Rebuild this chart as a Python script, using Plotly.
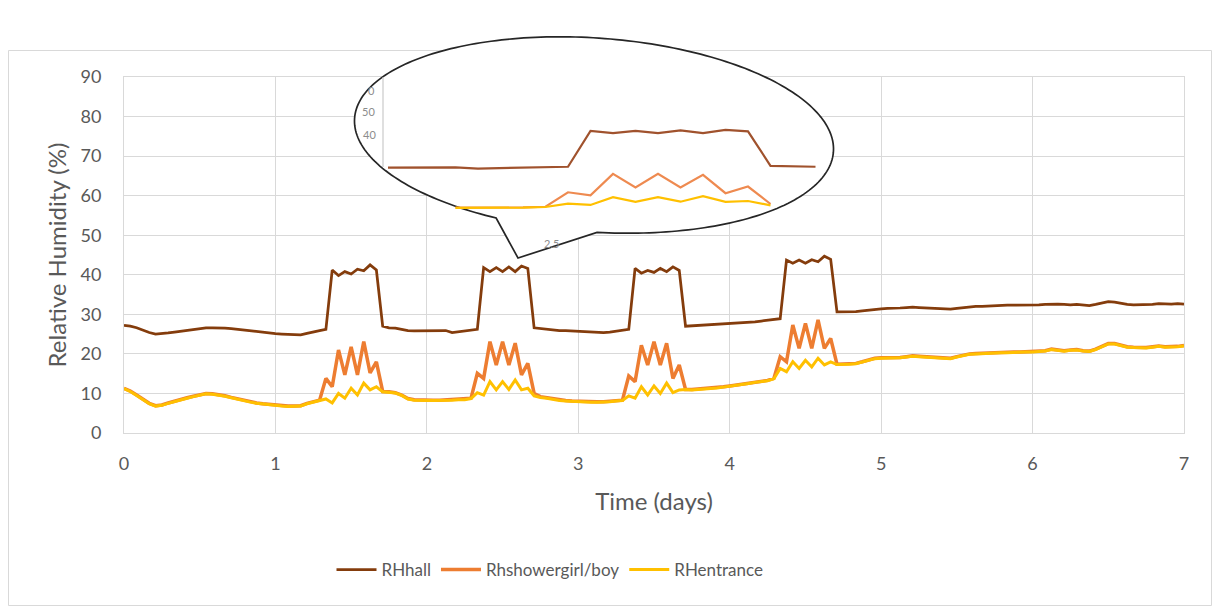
import math
import numpy as np
import plotly.graph_objects as go

W, H = 1219, 607

# ---------------- data (hourly samples, 7 days) ----------------
hours = list(range(169))
time_days = [h / 24 for h in hours]

rh_hall = [
    27.2, 27.0, 26.6, 26.0, 25.4, 25.0, 25.1, 25.3, 25.5, 25.7, 25.9, 26.1, 26.4, 26.6, 26.6, 26.6, 26.5, 26.4, 26.2, 26.0, 25.8, 25.6, 25.4, 25.2,
    25.1, 25.0, 24.9, 24.8, 24.8, 25.2, 25.6, 25.9, 26.2, 41.2, 39.8, 40.8, 40.2, 41.4, 41.0, 42.5, 41.2, 27.0, 26.6, 26.5, 26.2, 25.9, 25.8, 25.8,
    25.8, 25.9, 25.9, 25.9, 25.4, 25.6, 25.8, 26.0, 26.2, 41.8, 40.8, 41.8, 40.8, 42.0, 40.8, 42.2, 41.6, 26.6, 26.4, 26.2, 26.0, 25.9, 25.9, 25.8,
    25.7, 25.6, 25.6, 25.5, 25.4, 25.5, 25.7, 26.0, 26.2, 41.6, 40.4, 41.1, 40.6, 41.6, 40.8, 42.0, 41.1, 27.0, 27.1, 27.2, 27.3, 27.4, 27.5, 27.5,
    27.6, 27.7, 27.8, 28.0, 28.1, 28.3, 28.5, 28.7, 28.9, 43.7, 42.9, 43.7, 42.9, 43.8, 43.3, 44.7, 43.9, 30.6, 30.6, 30.7, 30.7, 30.9, 31.1, 31.3,
    31.4, 31.5, 31.5, 31.6, 31.7, 31.8, 31.7, 31.6, 31.5, 31.4, 31.4, 31.3, 31.5, 31.7, 31.9, 32.0, 32.0, 32.1, 32.2, 32.2, 32.3, 32.3, 32.3, 32.4,
    32.4, 32.4, 32.5, 32.6, 32.6, 32.5, 32.4, 32.5, 32.3, 32.2, 32.5, 32.9, 33.2, 33.1, 32.8, 32.5, 32.4, 32.4, 32.4, 32.5, 32.7, 32.6, 32.6, 32.7,
    32.6,
]

rh_shower = [
    11.3, 10.6, 9.6, 8.5, 7.5, 6.9, 7.1, 7.6, 8.1, 8.5, 8.9, 9.3, 9.7, 10.0, 9.9, 9.7, 9.4, 9.0, 8.6, 8.2, 7.9, 7.6, 7.4, 7.2,
    7.0, 6.9, 6.8, 6.8, 6.9, 7.5, 7.9, 8.3, 13.8, 11.7, 21.0, 14.7, 21.8, 14.7, 23.1, 15.2, 18.0, 10.5, 10.4, 10.2, 9.6, 8.7, 8.4, 8.3,
    8.3, 8.3, 8.3, 8.4, 8.4, 8.5, 8.5, 8.8, 15.1, 13.8, 23.1, 17.2, 23.1, 17.2, 22.7, 14.7, 17.6, 10.0, 9.2, 8.9, 8.6, 8.3, 8.2, 8.1,
    8.0, 8.0, 7.9, 7.9, 7.9, 8.0, 8.2, 8.3, 14.4, 13.0, 22.2, 17.2, 23.1, 17.2, 22.7, 13.8, 17.2, 11.0, 11.0, 11.1, 11.2, 11.3, 11.5, 11.7,
    11.9, 12.1, 12.3, 12.6, 12.9, 13.1, 13.3, 13.8, 19.3, 18.0, 27.3, 21.4, 27.7, 21.4, 28.6, 21.4, 23.9, 17.4, 17.4, 17.5, 17.6, 18.0, 18.5, 18.9,
    19.0, 19.0, 19.0, 19.1, 19.3, 19.5, 19.4, 19.3, 19.2, 19.1, 19.0, 18.9, 19.3, 19.7, 20.0, 20.1, 20.2, 20.3, 20.3, 20.4, 20.4, 20.5, 20.5, 20.6,
    20.6, 20.7, 20.8, 21.2, 21.0, 20.8, 21.0, 21.1, 20.8, 20.7, 21.2, 22.0, 22.6, 22.6, 22.2, 21.8, 21.7, 21.6, 21.6, 21.8, 22.0, 21.8, 21.8, 21.9,
    22.1,
]

rh_entrance = [
    11.2, 10.5, 9.5, 8.4, 7.4, 6.8, 7.0, 7.5, 8.0, 8.4, 8.8, 9.2, 9.6, 9.9, 9.8, 9.6, 9.3, 8.9, 8.5, 8.1, 7.8, 7.5, 7.3, 7.1,
    6.9, 6.8, 6.7, 6.7, 6.8, 7.4, 7.8, 8.2, 8.6, 7.6, 10.0, 8.8, 11.3, 9.6, 12.6, 10.9, 11.7, 10.4, 10.3, 10.1, 9.5, 8.6, 8.3, 8.2,
    8.2, 8.2, 8.2, 8.3, 8.3, 8.4, 8.4, 8.7, 10.2, 9.6, 13.0, 10.9, 13.0, 11.0, 13.4, 10.9, 11.3, 9.4, 9.0, 8.8, 8.5, 8.2, 8.1, 8.0,
    7.9, 7.9, 7.8, 7.8, 7.8, 7.9, 8.1, 8.2, 9.4, 8.8, 11.7, 9.6, 11.9, 10.0, 12.6, 10.2, 10.9, 11.0, 10.9, 11.0, 11.1, 11.2, 11.4, 11.6,
    11.8, 12.0, 12.2, 12.5, 12.8, 13.0, 13.2, 13.7, 16.3, 15.5, 18.0, 16.3, 18.4, 16.7, 18.9, 17.2, 18.0, 17.3, 17.3, 17.4, 17.5, 17.9, 18.4, 18.8,
    18.9, 18.9, 18.9, 19.0, 19.2, 19.4, 19.3, 19.2, 19.1, 19.0, 18.9, 18.8, 19.2, 19.6, 19.9, 20.0, 20.1, 20.2, 20.2, 20.3, 20.3, 20.4, 20.4, 20.5,
    20.5, 20.6, 20.7, 21.1, 20.9, 20.7, 20.9, 21.0, 20.7, 20.6, 21.1, 21.9, 22.5, 22.5, 22.1, 21.7, 21.6, 21.5, 21.5, 21.7, 21.9, 21.7, 21.7, 21.8,
    22.0,
]

series_names = ["RHhall", "Rhshowergirl/boy", "RHentrance"]
x_ticks = [0, 1, 2, 3, 4, 5, 6, 7]
y_ticks = [0, 10, 20, 30, 40, 50, 60, 70, 80, 90]

# ---------------- styling ----------------
FONT = "Lato, 'Open Sans', sans-serif"
TXT = "#595959"
GRID = "#d9d9d9"
COL_MAIN = ["#843C0C", "#ED7D31", "#FFC000"]
COL_INSET = ["#a0522d", "#ee8a50", "#ffc000"]

# main plot area (pixels)
PL, PR, PT, PB = 124, 1184, 77, 433

def fx(px):
    return px / W

def fy(py):
    return 1 - py / H

# inset (zoomed callout) geometry: pixels <-> inset data units
INSET_PX = (340, 880, 22, 268)          # left, right, top, bottom
INSET_DAY0, INSET_DAY0_PX, INSET_PX_PER_DAY = 58 / 24, 613, 540
INSET_RH0, INSET_RH0_PX, INSET_PX_PER_RH = 40, 135, 2.3

def idx(px):
    return INSET_DAY0 + (px - INSET_DAY0_PX) / INSET_PX_PER_DAY

def idy(py):
    return INSET_RH0 + (INSET_RH0_PX - py) / INSET_PX_PER_RH

BROWN_WIN = (48, 68)
WET_WIN = (51, 66)

fig = go.Figure()

main_series = [rh_hall, rh_shower, rh_entrance]
widths = [2.75, 3.5, 3.0]
for name, ys, col, w in zip(series_names, main_series, COL_MAIN, widths):
    fig.add_trace(go.Scatter(x=time_days, y=ys, mode="lines", name=name,
                             line=dict(color=col, width=w), xaxis="x", yaxis="y",
                             hoverinfo="skip"))

# inset traces
wins = [BROWN_WIN, WET_WIN, WET_WIN]
for name, ys, col, win in zip(series_names, main_series, COL_INSET, wins):
    a, b = win
    fig.add_trace(go.Scatter(x=time_days[a:b], y=ys[a:b], mode="lines", name=name,
                             showlegend=False, line=dict(color=col, width=2.2),
                             xaxis="x2", yaxis="y2", hoverinfo="skip"))

# ---------------- callout outline (ellipse + tail) ----------------
cx, cy, ea, eb, th = 594, 135, 240, 97, math.radians(4)
tt = np.linspace(-2 * math.pi, 2 * math.pi, 4001)
ex = cx + ea * np.cos(tt) * math.cos(th) - eb * np.sin(tt) * math.sin(th)
ey = cy + ea * np.cos(tt) * math.sin(th) + eb * np.sin(tt) * math.cos(th)

def nearest_t(px, py, lo, hi):
    m = (tt >= lo) & (tt <= hi)
    d = (ex[m] - px) ** 2 + (ey[m] - py) ** 2
    return tt[m][np.argmin(d)]

tB = nearest_t(597, 232, 0, math.pi)
tA = nearest_t(497, 215, 0, math.pi)
tail_tip = (518, 258)
arc = np.linspace(tB, tA - 2 * math.pi, 240)
axp = cx + ea * np.cos(arc) * math.cos(th) - eb * np.sin(arc) * math.sin(th)
ayp = cy + ea * np.cos(arc) * math.sin(th) + eb * np.sin(arc) * math.cos(th)
pts = [(idx(x), idy(y)) for x, y in zip(axp, ayp)]
pts.append((idx(tail_tip[0]), idy(tail_tip[1])))
pts.append(pts[0])
path = "M " + " L ".join(f"{x:.5f},{y:.4f}" for x, y in pts) + " Z"

shapes = [
    # chart-area border
    dict(type="rect", xref="paper", yref="paper", x0=fx(8.5), x1=fx(1211.5),
         y0=fy(605.5), y1=fy(50.5), line=dict(color=GRID, width=1),
         fillcolor="rgba(0,0,0,0)", layer="below"),
    # callout
    dict(type="path", xref="x2", yref="y2", path=path, fillcolor="white",
         line=dict(color="#262626", width=1.7), layer="below"),
    # inset vertical axis line
    dict(type="line", xref="x2", yref="y2", x0=idx(383), x1=idx(383),
         y0=idy(167), y1=idy(77), line=dict(color="#bfbfbf", width=1), layer="below"),
]

inset_labels = [("0", 371, 90), ("50", 368, 112), ("40", 369, 135), ("2.5", 551, 243)]
annotations = [
    dict(text=t, x=fx(px), y=fy(py), xref="paper", yref="paper", showarrow=False,
         xanchor="center", yanchor="middle", font=dict(family=FONT, size=11, color="#8c8c8c"))
    for t, px, py in inset_labels
]

fig.update_layout(
    width=W, height=H, autosize=False,
    margin=dict(l=0, r=0, t=0, b=0),
    paper_bgcolor="white", plot_bgcolor="rgba(0,0,0,0)",
    font=dict(family=FONT, color=TXT),
    showlegend=True,
    legend=dict(orientation="h", x=fx(550), y=fy(570), xanchor="center", yanchor="middle",
                font=dict(family=FONT, size=17, color=TXT), bgcolor="rgba(0,0,0,0)",
                itemwidth=40, tracegroupgap=0),
    xaxis=dict(domain=[fx(PL), fx(PR)], range=[0, 7], tickvals=x_ticks,
               showgrid=True, gridcolor=GRID, gridwidth=1, zeroline=False,
               showline=True, linecolor=GRID, linewidth=1, mirror=True,
               ticks="", ticklabelstandoff=14,
               tickfont=dict(family=FONT, size=18, color=TXT),
               title=dict(text="Time (days)", standoff=20,
                          font=dict(family=FONT, size=24, color=TXT)),
               automargin=False, fixedrange=True, anchor="y"),
    yaxis=dict(domain=[fy(PB), fy(PT)], range=[0, 90], tickvals=y_ticks,
               showgrid=True, gridcolor=GRID, gridwidth=1, zeroline=False,
               showline=True, linecolor=GRID, linewidth=1, mirror=True,
               ticks="", ticklabelstandoff=18,
               tickfont=dict(family=FONT, size=18, color=TXT),
               title=dict(text="Relative Humidity (%)", standoff=7,
                          font=dict(family=FONT, size=24, color=TXT)),
               automargin=False, fixedrange=True, anchor="x"),
    xaxis2=dict(domain=[fx(INSET_PX[0]), fx(INSET_PX[1])],
                range=[idx(INSET_PX[0]), idx(INSET_PX[1])], visible=False,
                showgrid=False, zeroline=False, anchor="y2", fixedrange=True),
    yaxis2=dict(domain=[fy(INSET_PX[3]), fy(INSET_PX[2])],
                range=[idy(INSET_PX[3]), idy(INSET_PX[2])], visible=False,
                showgrid=False, zeroline=False, anchor="x2", fixedrange=True),
    shapes=shapes,
    annotations=annotations,
)

fig.write_html("out.html")
